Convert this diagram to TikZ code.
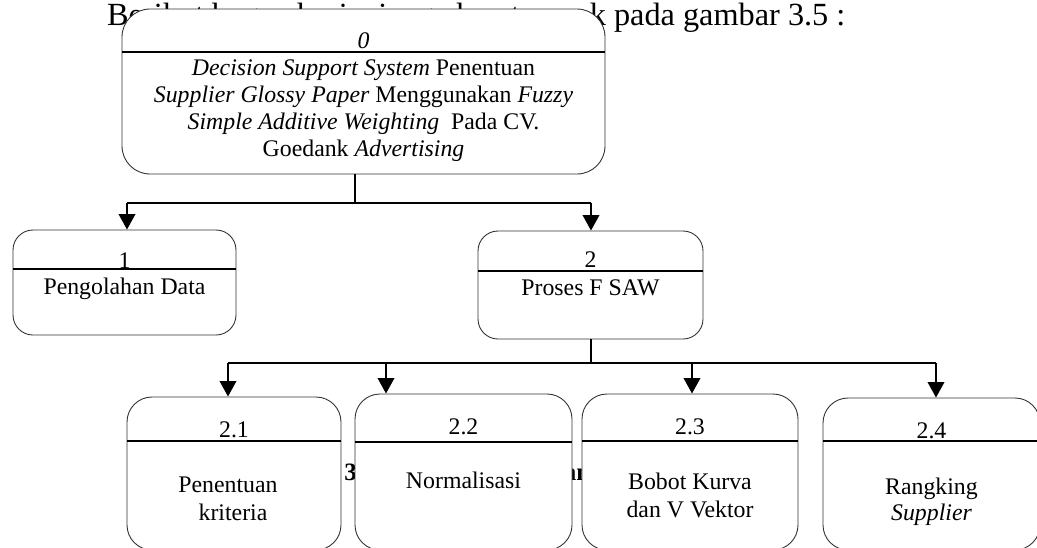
\documentclass[tikz,border=0pt]{standalone}
\usepackage{fontspec}
\setmainfont{Liberation Serif}
\usetikzlibrary{arrows.meta}
\newcommand\boxfont{\fontsize{23.8}{27}\selectfont}
\newcommand\pagefont{\fontsize{32.3}{36}\selectfont}
\tikzset{
  proc/.style={draw=black!80, line width=0.9pt, fill=white, rectangle,
    inner sep=0pt, rounded corners=#1},
  proc/.default=25pt,
  divider/.style={line width=2.2pt},
  conn/.style={line width=2pt},
  arr/.style={line width=2pt, -{Triangle[length=15.5pt,width=16.5pt]}},
  lbl/.style={anchor=base, inner sep=0pt, font=\boxfont},
}
\begin{document}
\begin{tikzpicture}[x=1pt,y=-1pt]
\useasboundingbox (0,0) rectangle (1037,547);
\clip (0,0) rectangle (1037,547);
\fill[white] (0,0) rectangle (1037,547);

% surrounding page text, partly covered by the boxes
\node[anchor=base west, inner sep=0pt, font=\pagefont] (intro) at (107,25)
  {Berikut bagan berjenjang akan tampak pada gambar 3.5 :};
\node[anchor=base, inner sep=0pt, font=\fontsize{25}{28}\selectfont\bfseries] (capA) at (350.5,480) {3};
\node[anchor=base, inner sep=0pt, font=\fontsize{25}{28}\selectfont\bfseries] (capB) at (577,480) {an};

% level 0
\node[proc=28pt, minimum width=483pt, minimum height=165pt] (b0) at (363.5,91.5) {};
\draw[divider] (b0.west |- 0,52) -- (b0.east |- 0,52);
\node[lbl] (n0) at (363.5,48) {\itshape 0};
\node[lbl] (t0a) at (363.5,75) {\textit{Decision Support System} Penentuan};
\node[lbl] (t0b) at (363.5,102) {\textit{Supplier Glossy Paper} Menggunakan \textit{Fuzzy}};
\node[lbl] (t0c) at (363.5,129) {\textit{Simple Additive Weighting}\ \ Pada CV.};
\node[lbl] (t0d) at (363.5,156) {Goedank \textit{Advertising}};

% level 1
\node[proc=20pt, minimum width=223pt, minimum height=105pt] (b1) at (124.5,282.5) {};
\draw[divider] (b1.west |- 0,269) -- (b1.east |- 0,269);
\node[lbl] (n1) at (124.5,268) {1};
\node[lbl] (t1) at (124.5,294) {Pengolahan Data};

\node[proc=20pt, minimum width=225pt, minimum height=108pt] (b2) at (590.5,285) {};
\draw[divider] (b2.west |- 0,271) -- (b2.east |- 0,271);
\node[lbl] (n2) at (590.5,267) {2};
\node[lbl] (t2) at (590.5,295) {Proses F SAW};

% level 2
\node[proc, minimum width=214pt, minimum height=153pt] (b21) at (234,473.5) {};
\draw[divider] (b21.west |- 0,441) -- (b21.east |- 0,441);
\node[lbl] (n21) at (234,437) {2.1};
\node[lbl] (t21a) at (228,492) {Penentuan};
\node[lbl] (t21b) at (233,520) {kriteria};

\node[proc, minimum width=217pt, minimum height=156pt] (b22) at (463.5,472) {};
\draw[divider] (b22.west |- 0,442) -- (b22.east |- 0,442);
\node[lbl] (n22) at (463.5,434) {2.2};
\node[lbl] (t22) at (463.5,488) {Normalisasi};

\node[proc, minimum width=216pt, minimum height=156pt] (b23) at (690,472) {};
\draw[divider] (b23.west |- 0,441) -- (b23.east |- 0,441);
\node[lbl] (n23) at (690,434) {2.3};
\node[lbl] (t23a) at (690,489) {Bobot Kurva};
\node[lbl] (t23b) at (690,517) {dan V Vektor};

\node[proc, minimum width=217pt, minimum height=152pt] (b24) at (931.5,474) {};
\draw[divider] (b24.west |- 0,441) -- (b24.east |- 0,441);
\node[lbl] (n24) at (931.5,438) {2.4};
\node[lbl] (t24a) at (931.5,494) {Rangking};
\node[lbl] (t24b) at (931.5,520) {\itshape Supplier};

% connectors from 0
\coordinate (f0) at (355,202.5);
\coordinate (j1) at (127,202.5);
\coordinate (j2) at (591,202.5);
\draw[conn] (b0.south -| f0) -- (f0);
\draw[conn] (j1) -- (j2);
\draw[arr] (j1) -- (j1 |- b1.north);
\draw[arr] (j2) -- (j2 |- b2.north);

% connectors from 2
\coordinate (f2) at (591,363);
\coordinate (k1) at (228,363);
\coordinate (k2) at (386,363);
\coordinate (k3) at (692,363);
\coordinate (k4) at (936,363);
\draw[conn] (b2.south -| f2) -- (f2);
\draw[conn] (k1) -- (k4);
\draw[arr] (k1) -- (k1 |- b21.north);
\draw[arr] (k2) -- (k2 |- b22.north);
\draw[arr] (k3) -- (k3 |- b23.north);
\draw[arr] (k4) -- (k4 |- b24.north);
\end{tikzpicture}
\end{document}
